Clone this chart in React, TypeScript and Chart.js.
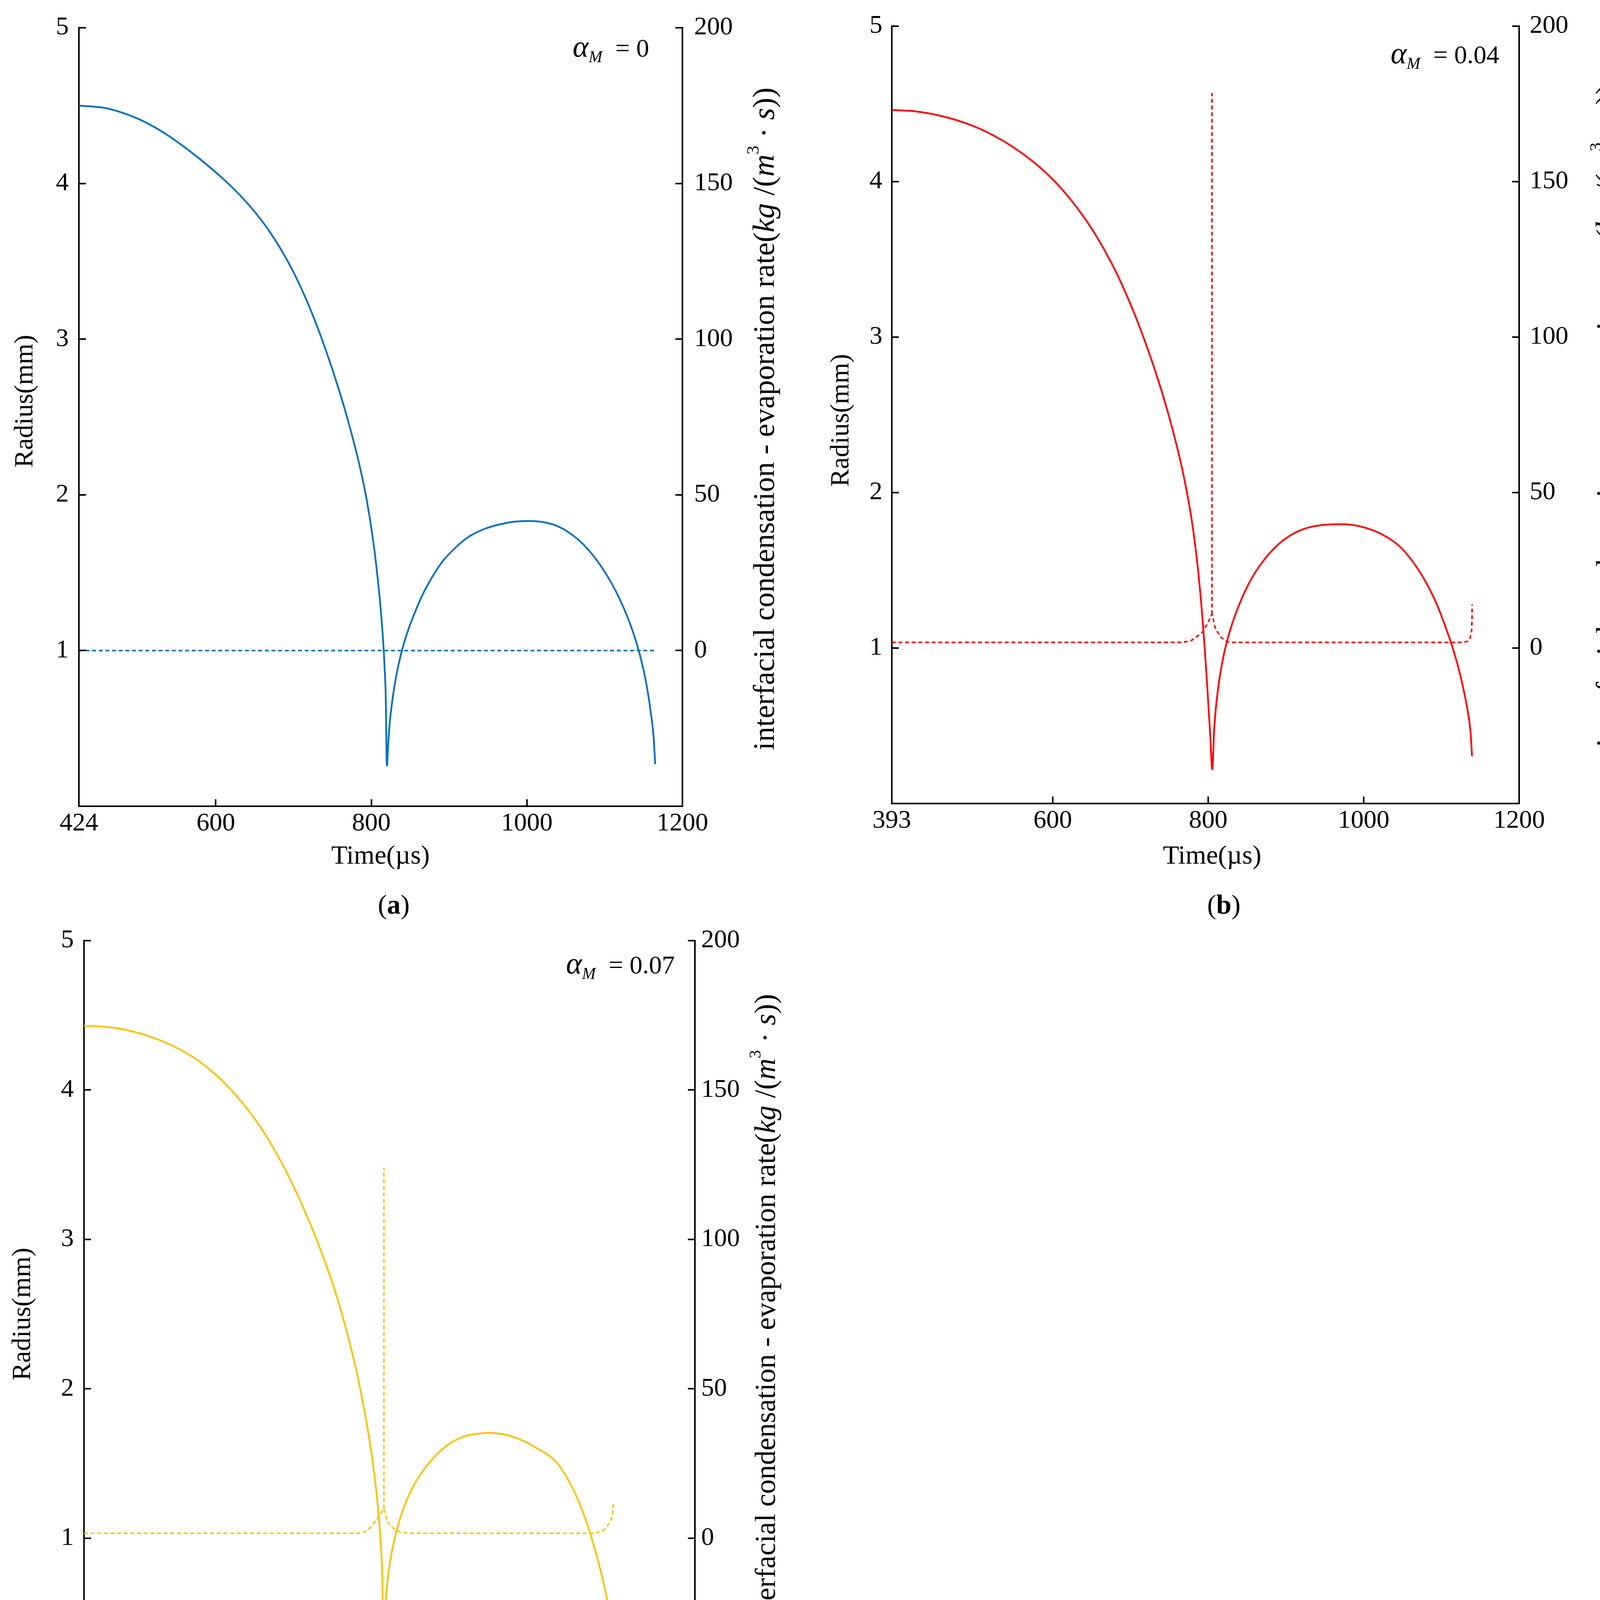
import React, { useEffect, useRef } from 'react';
import { Chart, registerables } from 'chart.js';

Chart.register(...registerables);

const FAMILY = '"Liberation Serif", "Times New Roman", serif';

// ---------- Panel (a): alpha_M = 0 ----------
const timeA = [424, 460, 496, 521, 546, 578, 610, 630, 650, 670, 691, 708, 725, 742, 758, 772, 785, 794, 802, 808, 812, 815, 817, 818.5, 820,
  821.5, 823, 826, 830, 835, 841, 848, 856, 866, 878, 892, 908, 925, 945, 965, 985, 1001, 1018, 1035, 1050, 1065, 1080, 1095, 1108, 1120, 1131, 1141, 1149, 1155, 1160, 1163, 1165];
const radiusA = [4.50, 4.482, 4.424, 4.362, 4.283, 4.163, 4.027, 3.930, 3.818, 3.685, 3.514, 3.347, 3.150, 2.922, 2.680, 2.441, 2.186, 1.970, 1.718, 1.472, 1.268, 1.073, 0.899, 0.71, 0.26,
  0.38, 0.50, 0.64, 0.78, 0.91, 1.03, 1.14, 1.245, 1.36, 1.47, 1.575, 1.66, 1.73, 1.78, 1.81, 1.828, 1.832, 1.827, 1.807, 1.771, 1.717, 1.642, 1.544, 1.44, 1.324, 1.194, 1.049, 0.897, 0.747, 0.577, 0.442, 0.27];
const rateTimeA = [424, 1164];
const rateA = [0, 0];
const spikeTimeA: number[] = [];
const spikeA: number[] = [];
const xTicksA = [424, 600, 800, 1000, 1200];

// ---------- Panel (b): alpha_M = 0.04 ----------
const timeB = [393, 425, 456, 487, 517, 550, 584, 611, 639, 657, 676, 691, 706, 723, 740, 754, 767, 777, 782, 787, 790.5, 793.5, 796, 798.7, 802.6, 805.2,
  807.8, 813, 819.4, 825.9, 836.3, 851.8, 870, 893.3, 919, 945, 973.6, 999.5, 1022.8, 1046, 1061.7, 1077, 1092.8, 1105.7, 1116, 1125, 1133, 1137.4, 1139.4];
const radiusB = [4.46, 4.450, 4.422, 4.377, 4.314, 4.218, 4.089, 3.955, 3.779, 3.642, 3.472, 3.316, 3.139, 2.912, 2.654, 2.409, 2.141, 1.88, 1.71, 1.50, 1.32, 1.137, 0.963, 0.759, 0.441, 0.22,
  0.49, 0.75, 0.94, 1.075, 1.233, 1.41, 1.555, 1.68, 1.758, 1.79, 1.796, 1.777, 1.733, 1.655, 1.565, 1.45, 1.296, 1.13, 0.977, 0.81, 0.618, 0.465, 0.304];
const rateTimeB = [393, 600, 765, 777, 792, 799, 804.8, 809, 815.5, 824.6, 830, 1000, 1128, 1134, 1137, 1138.8, 1139.4, 1139.5];
const rateB = [1.8, 1.8, 1.8, 2.2, 4.9, 7.8, 10.9, 6.5, 3.6, 2.0, 1.8, 1.8, 1.8, 2.2, 3.3, 5.5, 9.0, 14.0];
const spikeTimeB = [804.8, 804.8];
const spikeB = [10.9, 178.5];
const xTicksB = [393, 600, 800, 1000, 1200];

// ---------- Panel (c): alpha_M = 0.07 ----------
const timeC = [386, 415, 443, 475, 506, 534, 562, 586, 611, 632, 653, 670, 688, 702, 716, 730, 745, 756, 766, 771, 776, 779, 781, 783, 785.5,
  787, 789, 792, 797, 803, 811, 820, 829, 842, 857, 871, 885, 899, 913, 926, 938, 950, 962, 976, 990, 1001, 1011, 1020, 1029, 1038, 1046, 1053, 1060, 1067, 1074, 1080, 1085, 1089, 1091];
const radiusC = [4.43, 4.423, 4.401, 4.356, 4.292, 4.211, 4.100, 3.979, 3.824, 3.666, 3.478, 3.304, 3.098, 2.920, 2.723, 2.496, 2.206, 1.951, 1.669, 1.499, 1.291, 1.135, 1.002, 0.817, 0.31,
  0.50, 0.64, 0.78, 0.93, 1.06, 1.19, 1.30, 1.385, 1.48, 1.565, 1.625, 1.665, 1.69, 1.70, 1.705, 1.70, 1.69, 1.67, 1.64, 1.60, 1.568, 1.53, 1.48, 1.41, 1.325, 1.235, 1.145, 1.04, 0.92, 0.79, 0.66, 0.54, 0.44, 0.35];
const rateTimeC = [386, 600, 755, 765, 773, 780, 785.6, 790, 797, 804, 812, 822, 1000, 1064, 1075, 1081, 1087, 1090, 1091.5];
const rateC = [1.6, 1.6, 1.6, 2.8, 5.2, 7.6, 9.9, 5.6, 3.5, 2.3, 1.8, 1.6, 1.6, 1.6, 2.2, 3.2, 5.5, 7.5, 11.5];
const spikeTimeC = [785.6, 785.6];
const spikeC = [9.9, 124];
const xTicksC = [386, 600, 800, 1000, 1200];

const radiusTicks = [1, 2, 3, 4, 5];
const rateTicks = [0, 50, 100, 150, 200];

type Seg = { text: string; style?: string; size: number; dy?: number };

const font = (style: string | undefined, size: number) => `${style ? style + ' ' : ''}${size}px ${FAMILY}`;

function drawRich(ctx: CanvasRenderingContext2D, segs: Seg[], x: number, y: number, align: 'left' | 'center' | 'right') {
  let total = 0;
  for (const s of segs) {
    ctx.font = font(s.style, s.size);
    total += ctx.measureText(s.text).width;
  }
  let cx = align === 'center' ? x - total / 2 : align === 'right' ? x - total : x;
  for (const s of segs) {
    ctx.font = font(s.style, s.size);
    ctx.fillText(s.text, cx, y + (s.dy || 0));
    cx += ctx.measureText(s.text).width;
  }
}

const TITLE = 68;

const decoPlugin = {
  id: 'deco',
  afterDraw(chart: any, _args: any, opts: any) {
    const { ctx, chartArea, scales } = chart;
    const { left, right, bottom } = chartArea;
    ctx.save();
    // inward tick marks
    ctx.strokeStyle = '#000';
    ctx.lineWidth = 4;
    ctx.setLineDash([]);
    ctx.beginPath();
    for (const v of opts.xTicks) {
      const px = Math.round(scales.x.getPixelForValue(v));
      ctx.moveTo(px, bottom);
      ctx.lineTo(px, bottom - 18);
    }
    for (const v of radiusTicks) {
      const py = Math.round(scales.y.getPixelForValue(v));
      ctx.moveTo(left, py);
      ctx.lineTo(left + 18, py);
    }
    for (const v of rateTicks) {
      const py = Math.round(scales.y1.getPixelForValue(v));
      ctx.moveTo(right, py);
      ctx.lineTo(right - 18, py);
    }
    ctx.stroke();

    ctx.fillStyle = '#000';
    ctx.textAlign = 'left';
    ctx.textBaseline = 'alphabetic';

    // left title
    ctx.save();
    ctx.translate(opts.leftTitle[0], opts.leftTitle[1]);
    ctx.rotate(-Math.PI / 2);
    drawRich(ctx, [{ text: 'Radius(mm)', size: TITLE }], 0, TITLE * 0.33, 'center');
    ctx.restore();

    // right title
    const rs = opts.rightSize;
    ctx.save();
    ctx.translate(opts.rightTitle[0], opts.rightTitle[1]);
    ctx.rotate(-Math.PI / 2);
    drawRich(
      ctx,
      [
        { text: 'interfacial condensation - evaporation rate(', size: rs },
        { text: 'kg', style: 'italic', size: rs + 2 },
        { text: ' /(', size: rs + 2 },
        { text: 'm', style: 'italic', size: rs + 2 },
        { text: '3', size: Math.round(rs * 0.58), dy: -Math.round(rs * 0.5) },
        { text: ' \u00b7 ', size: rs + 2 },
        { text: 's', style: 'italic', size: rs + 2 },
        { text: '))', size: rs + 2 },
      ],
      0,
      rs * 0.3,
      'center'
    );
    ctx.restore();

    // x title
    drawRich(ctx, [{ text: 'Time(\u00b5s)', size: TITLE }], opts.xTitle[0], opts.xTitle[1] + TITLE * 0.33, 'center');

    // alpha annotation
    drawRich(
      ctx,
      [
        { text: '\u03b1', style: 'italic', size: 78 },
        { text: 'M', style: 'italic', size: 42, dy: 14 },
        { text: '  = ' + opts.alpha, size: 66 },
      ],
      opts.alphaPos[0],
      opts.alphaPos[1] + 22,
      'left'
    );

    // caption
    drawRich(
      ctx,
      [
        { text: '(', size: 70 },
        { text: opts.caption, style: 'bold', size: 70 },
        { text: ')', size: 70 },
      ],
      opts.captionPos[0],
      opts.captionPos[1] + 23,
      'center'
    );
    ctx.restore();
  },
};

const panels = [
  {
    key: 'a', left: 0, top: 0, w: 2090, h: 2400, padT: 71, leftW: 202, rightW: 343, bottomH: 336,
    leftPad: 26, rightPad: 30,
    color: '#0070C0', xMin: 424, xTicks: xTicksA, time: timeA, radius: radiusA, rateTime: rateTimeA, rate: rateA,
    spikeTime: spikeTimeA, spike: spikeA,
    alpha: '0', caption: 'a', rightSize: 77,
    leftTitle: [61, 1027], rightTitle: [1958, 1072], xTitle: [974, 2189], alphaPos: [1466, 123], captionPos: [1008, 2316],
  },
  {
    key: 'b', left: 2090, top: 0, w: 2089, h: 2400, padT: 66, leftW: 193, rightW: 290, bottomH: 343,
    leftPad: 24, rightPad: 27,
    color: '#FF0000', xMin: 393, xTicks: xTicksB, time: timeB, radius: radiusB, rateTime: rateTimeB, rate: rateB,
    spikeTime: spikeTimeB, spike: spikeB,
    alpha: '0.04', caption: 'b', rightSize: 77,
    leftTitle: [60, 1076], rightTitle: [2026, 1064], xTitle: [1013, 2189], alphaPos: [1470, 140], captionPos: [1043, 2316],
  },
  {
    key: 'c', left: 0, top: 2330, w: 2090, h: 2307, padT: 78, leftW: 215, rightW: 311, bottomH: 317,
    leftPad: 26, rightPad: 16,
    color: '#FFC000', xMin: 386, xTicks: xTicksC, time: timeC, radius: radiusC, rateTime: rateTimeC, rate: rateC,
    spikeTime: spikeTimeC, spike: spikeC,
    alpha: '0.07', caption: 'c', rightSize: 74,
    leftTitle: [55, 1034], rightTitle: [1962, 1030], xTitle: [1035, 2112], alphaPos: [1449, 140], captionPos: [1004, 2237],
  },
];

type PanelCfg = (typeof panels)[number];

function Panel({ cfg }: { cfg: PanelCfg }) {
  const ref = useRef<HTMLCanvasElement>(null);
  useEffect(() => {
    const tickFont = { family: FAMILY, size: 66 };
    const pts = (xs: number[], ys: number[]) => xs.map((t, i) => ({ x: t, y: ys[i] }));
    const dotted = {
      yAxisID: 'y1',
      borderColor: cfg.color,
      borderWidth: 4,
      borderDash: [10, 7],
      pointRadius: 0,
      fill: false,
      tension: 0,
    };
    const chart = new Chart(ref.current as HTMLCanvasElement, {
      type: 'line',
      data: {
        datasets: [
          {
            label: 'Radius',
            data: pts(cfg.time, cfg.radius),
            yAxisID: 'y',
            borderColor: cfg.color,
            borderWidth: 4.5,
            pointRadius: 0,
            fill: false,
            cubicInterpolationMode: 'monotone',
          },
          { label: 'Rate', data: pts(cfg.rateTime, cfg.rate), ...dotted },
          { label: 'Rate spike', data: pts(cfg.spikeTime, cfg.spike), ...dotted },
        ],
      },
      options: {
        animation: false,
        responsive: false,
        devicePixelRatio: 1,
        events: [],
        layout: { padding: { top: cfg.padT, left: 0, right: 0, bottom: 0 } },
        plugins: {
          legend: { display: false },
          tooltip: { enabled: false },
          deco: {
            xTicks: cfg.xTicks, leftTitle: cfg.leftTitle, rightTitle: cfg.rightTitle, xTitle: cfg.xTitle,
            alpha: cfg.alpha, alphaPos: cfg.alphaPos, caption: cfg.caption, captionPos: cfg.captionPos,
            rightSize: cfg.rightSize,
          },
        } as any,
        scales: {
          x: {
            type: 'linear',
            min: cfg.xMin,
            max: 1200,
            afterBuildTicks: (axis: any) => {
              axis.ticks = cfg.xTicks.map((v) => ({ value: v }));
            },
            afterFit: (axis: any) => {
              axis.height = cfg.bottomH;
            },
            grid: { display: false, drawTicks: false },
            border: { display: true, color: '#000', width: 4 },
            ticks: { color: '#000', font: tickFont, padding: 5, autoSkip: false, maxRotation: 0, callback: (v: any) => String(v) },
          },
          y: {
            type: 'linear',
            position: 'left',
            min: 0,
            max: 5,
            afterFit: (axis: any) => {
              axis.width = cfg.leftW;
            },
            grid: { display: false, drawTicks: false },
            border: { display: true, color: '#000', width: 4 },
            ticks: { color: '#000', font: tickFont, padding: cfg.leftPad, stepSize: 1, callback: (v: any) => (v === 0 ? '' : String(v)) },
          },
          y1: {
            type: 'linear',
            position: 'right',
            min: -50,
            max: 200,
            afterFit: (axis: any) => {
              axis.width = cfg.rightW;
            },
            grid: { display: false, drawTicks: false },
            border: { display: true, color: '#000', width: 4 },
            ticks: { color: '#000', font: tickFont, padding: cfg.rightPad, stepSize: 50, callback: (v: any) => (v === -50 ? '' : String(v)) },
          },
        },
      } as any,
      plugins: [decoPlugin],
    });
    return () => chart.destroy();
  }, [cfg]);
  return (
    <canvas
      ref={ref}
      width={cfg.w}
      height={cfg.h}
      style={{ position: 'absolute', left: cfg.left, top: cfg.top, width: cfg.w, height: cfg.h }}
    />
  );
}

export default function App() {
  return (
    <div style={{ position: 'absolute', left: 0, top: 0, width: 4179, height: 4637, background: '#ffffff', overflow: 'hidden' }}>
      {panels.map((p) => (
        <Panel key={p.key} cfg={p} />
      ))}
    </div>
  );
}
